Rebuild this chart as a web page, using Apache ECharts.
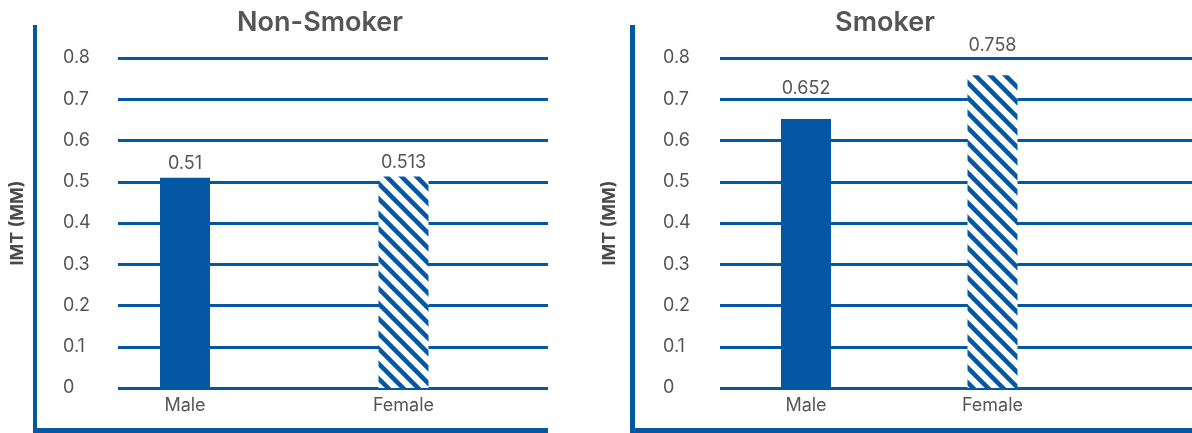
<!DOCTYPE html>
<html>
<head>
<meta charset="utf-8">
<title>IMT by sex and smoking status</title>
<script src="https://cdn.jsdelivr.net/npm/echarts@6/dist/echarts.min.js"></script>
<style>
  html, body { margin: 0; padding: 0; background: #fff; }
  #chart { width: 1192px; height: 433px; }
</style>
</head>
<body>
<div id="chart"></div>
<script>
// Mean intima-media thickness (mm) by sex
const categories = ['Male', 'Female'];
const panelTitles = ['Non-Smoker', 'Smoker'];
const nonSmokerValues = [0.51, 0.513];
const smokerValues = [0.652, 0.758];
const yTicks = [0, 0.1, 0.2, 0.3, 0.4, 0.5, 0.6, 0.7, 0.8];
const yAxisTitle = 'IMT (MM)';

const BLUE = '#0457a2';
const TEXT = '#555555';
const FONT = 'Inter, "Noto Sans", sans-serif';

// diagonal hatch tile for the female bars
function hatchTile() {
  const s = 15;
  const c = document.createElement('canvas');
  c.width = s; c.height = s;
  const g = c.getContext('2d');
  g.fillStyle = '#ffffff';
  g.fillRect(0, 0, s, s);
  g.strokeStyle = BLUE;
  g.lineWidth = 4.5;
  g.lineCap = 'square';
  for (const off of [-s, 0, s]) {
    g.beginPath();
    g.moveTo(off, 0);
    g.lineTo(off + s, s);
    g.stroke();
  }
  return c;
}
const hatch = { image: hatchTile(), repeat: 'repeat' };

const chart = echarts.init(document.getElementById('chart'), null, { renderer: 'canvas' });

const yMin = yTicks[0], yMax = yTicks[yTicks.length - 1], yStep = yTicks[1] - yTicks[0];

// gridline grids (0, 2) and bar grids (1, 3) share the same vertical extent
const grids = [
  { left: 118, right: 644, top: 58, bottom: 45 },
  { left: 75.75, right: 679.25, top: 58, bottom: 45 },
  { left: 720, right: 0, top: 58, bottom: 45 },
  { left: 712.75, right: 106.25, top: 58, bottom: 45 }
];

function lineYAxis(gridIndex) {
  return {
    type: 'value', gridIndex, min: yMin, max: yMax, interval: yStep,
    name: yAxisTitle, nameLocation: 'middle', nameRotate: 90,
    nameGap: gridIndex === 0 ? 91 : 101,
    nameTextStyle: { color: '#4a4a4a', fontSize: 18, fontWeight: 'bold', fontFamily: FONT },
    axisLine: { show: false }, axisTick: { show: false },
    axisLabel: {
      color: TEXT, fontSize: 18, fontFamily: FONT, align: 'left',
      margin: gridIndex === 0 ? 55 : 57,
      formatter: v => String(Math.round(v * 10) / 10)
    },
    splitLine: { lineStyle: { color: BLUE, width: 3 } }
  };
}
function barYAxis(gridIndex) {
  return {
    type: 'value', gridIndex, min: yMin, max: yMax, interval: yStep,
    show: false, splitLine: { show: false }
  };
}
function lineXAxis(gridIndex) {
  return { type: 'category', gridIndex, data: categories, show: false };
}
function barXAxis(gridIndex) {
  return {
    type: 'category', gridIndex, data: categories,
    axisLine: { show: false }, axisTick: { show: false },
    axisLabel: { color: TEXT, fontSize: 18, fontFamily: FONT, margin: 9 }
  };
}

function barSeries(axisIndex, values, labelDistance) {
  return {
    type: 'bar', xAxisIndex: axisIndex, yAxisIndex: axisIndex,
    barWidth: 50,
    data: values.map((v, i) => ({
      value: v,
      itemStyle: { color: i === 0 ? BLUE : hatch }
    })),
    label: {
      show: true, position: 'top', distance: labelDistance,
      color: TEXT, fontSize: 18, fontFamily: FONT,
      formatter: p => String(p.value)
    },
    z: 3
  };
}

const frame = (x, y, w, h) => ({
  type: 'rect', shape: { x, y, width: w, height: h },
  style: { fill: BLUE }, silent: true
});

chart.setOption({
  animation: false,
  backgroundColor: '#ffffff',
  title: [
    { text: panelTitles[0], left: 315, top: 4, textAlign: 'center',
      textStyle: { color: TEXT, fontSize: 27, fontWeight: 600, fontFamily: FONT } },
    { text: panelTitles[1], left: 880, top: 4, textAlign: 'center',
      textStyle: { color: TEXT, fontSize: 27, fontWeight: 600, fontFamily: FONT } }
  ],
  grid: grids,
  xAxis: [lineXAxis(0), barXAxis(1), lineXAxis(2), barXAxis(3)],
  yAxis: [lineYAxis(0), barYAxis(1), lineYAxis(2), barYAxis(3)],
  series: [
    barSeries(1, nonSmokerValues, 5),
    barSeries(3, smokerValues, 21)
  ],
  graphic: [
    frame(33, 25, 4, 408),
    frame(33, 428, 515, 5),
    frame(630, 25, 5, 408),
    frame(630, 428, 562, 5)
  ]
});
</script>
</body>
</html>
